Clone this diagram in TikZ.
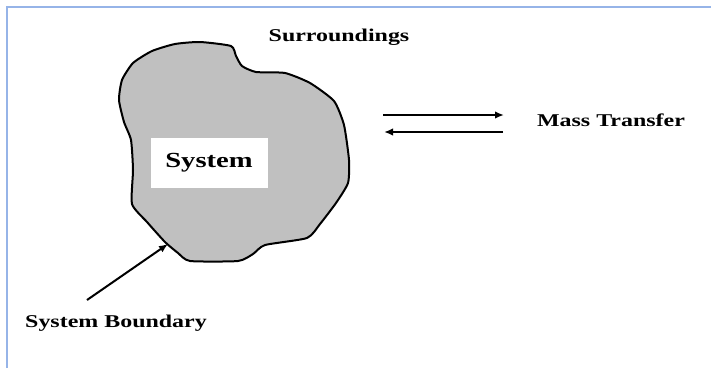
\documentclass[tikz,border=0pt]{standalone}
\usepackage{fontspec}
\setmainfont{Liberation Serif}
\newfontfamily\lblfont[FakeStretch=1.33]{Liberation Serif}
\usetikzlibrary{arrows.meta}
\definecolor{frameblue}{RGB}{150,180,232}
\definecolor{blobgray}{RGB}{192,192,192}
\tikzset{lbl/.style={font=\lblfont\bfseries\fontsize{18}{20}\selectfont, inner sep=0pt},
  arr/.style={line width=2pt, -{Latex[length=9pt,width=7.5pt]}}}

\begin{document}
\begin{tikzpicture}[x=1pt,y=-1pt]
  \useasboundingbox (0,0) rectangle (711,368);
  % frame
  \draw[frameblue, line width=2pt] (7,368) -- (7,7) -- (711,7);
  % the system
  \draw[fill=blobgray, line width=2pt] plot[smooth cycle, tension=0.35] coordinates {
    (200,42) (231,46) (236,56) (242,66) (256,72) (285,73) (310,83) (334,101)
    (344,125) (349,160) (348,183) (336,203) (320,224) (307,238) (265,245)
    (253,254) (238,261) (190,261) (178,253) (165,242) (147,222) (132,204)
    (133,170) (131,140) (124,122) (119,100) (122,80) (133,63) (152,51) (175,44)};
  \node[fill=white, minimum width=117pt, minimum height=50pt, inner sep=0pt,
    font=\lblfont\bfseries\fontsize{21.5}{24}\selectfont] (sys) at (209,163) {System};
  \node[lbl] (surr) at (339,37) {Surroundings};
  \node[lbl] (mass) at (611,120) {Mass Transfer};
  \node[lbl] (bound) at (116,323) {System Boundary};
  % connectors
  \coordinate (inL) at (383,115);
  \coordinate (inR) at (504,115);
  \coordinate (outL) at (384,132);
  \coordinate (outR) at (503,132);
  \coordinate (edge) at (168,244);
  \coordinate (tail) at (87,300);
  \draw[arr] (inL) -- (inR);
  \draw[arr] (outR) -- (outL);
  \draw[arr] (tail) -- (edge);
\end{tikzpicture}
\end{document}
